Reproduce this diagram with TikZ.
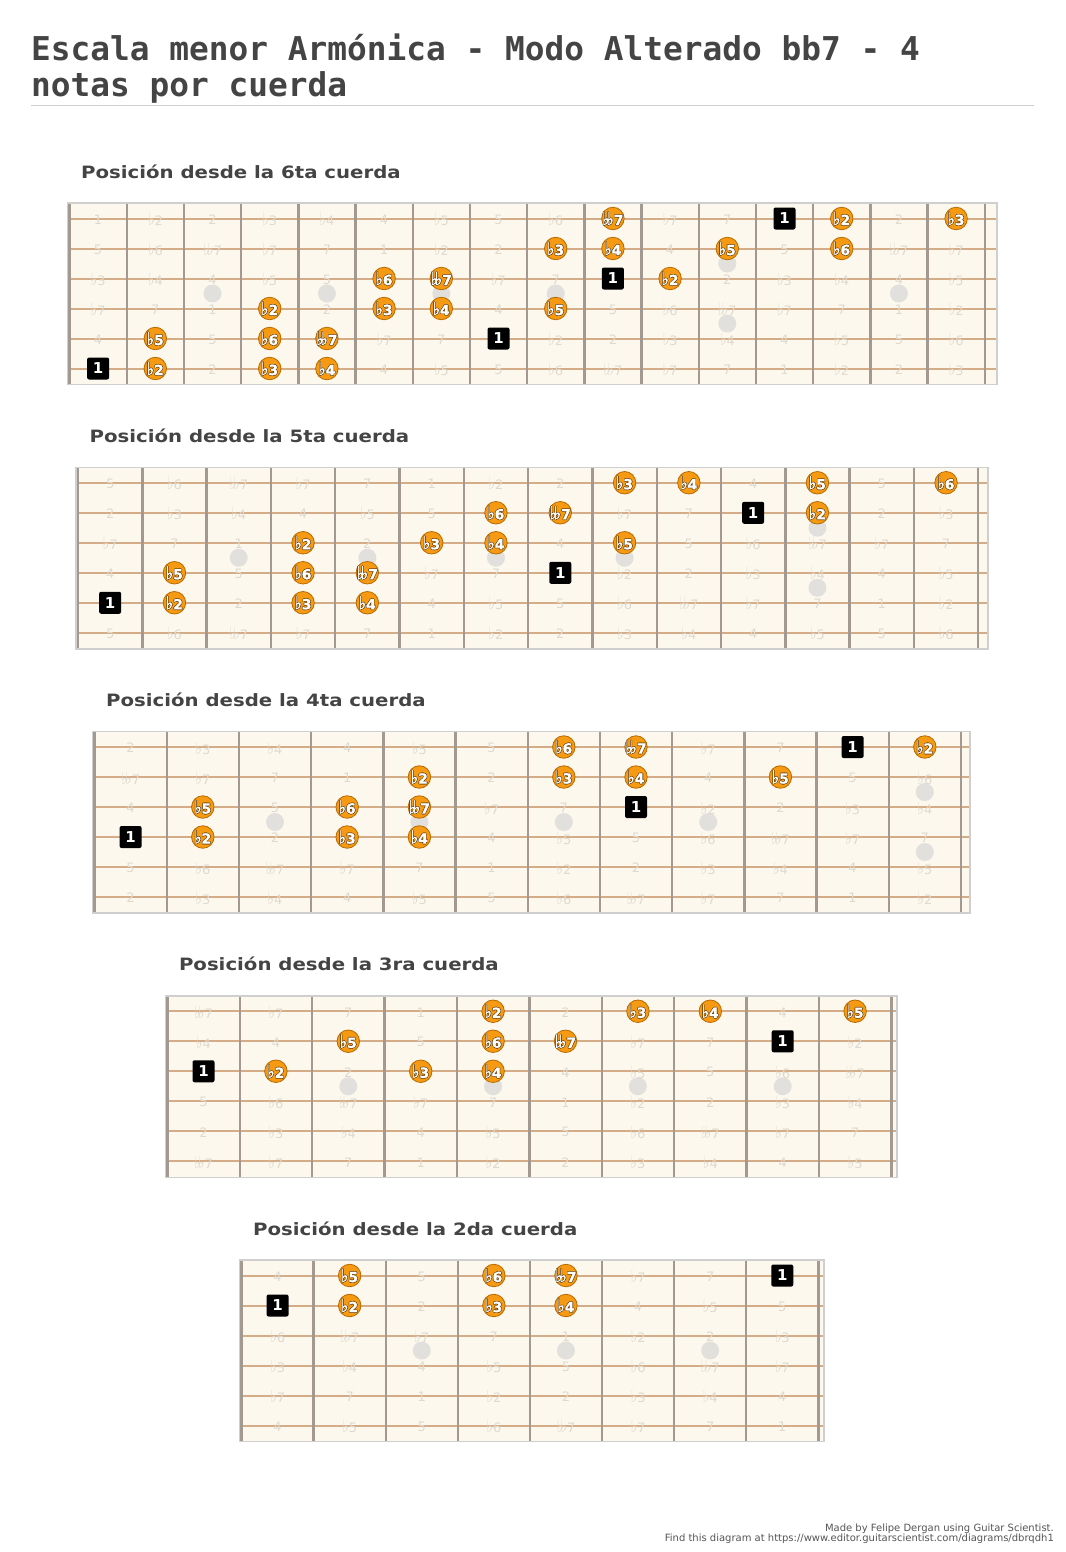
\documentclass[tikz,border=0pt]{standalone}
\usepackage{fontspec}
\usepackage{xcolor}
\usepackage{tikz}
\setmainfont{DejaVu Sans}
\newfontfamily\monohead{DejaVu Sans Mono}
\newfontfamily\widesans{DejaVu Sans}[FakeStretch=1.16]
\newfontface\degfont{DejaVu Sans Bold}[FakeBold=1.2]

\definecolor{headc}{HTML}{444444}
\definecolor{rulec}{HTML}{D0D0D0}
\definecolor{boardc}{HTML}{FDF8EE}
\definecolor{strc}{HTML}{D4AC88}
\definecolor{fretc}{HTML}{A29A90}
\definecolor{edgec}{HTML}{CFCFCF}
\definecolor{ghostc}{HTML}{DFDAD0}
\definecolor{inlayc}{HTML}{E2E0DC}
\definecolor{degfill}{HTML}{F59A12}
\definecolor{degline}{HTML}{B86A00}
\definecolor{degink}{HTML}{5A3A10}
\definecolor{footc}{HTML}{555555}

\newcommand\flt{\scalebox{1.1}[1.3]{♭}}
\newcommand\dflt{\flt\kern-.22em\flt}
% interval names by semitone
\expandafter\def\csname nm0\endcsname{1}
\expandafter\def\csname nm1\endcsname{\flt2}
\expandafter\def\csname nm2\endcsname{2}
\expandafter\def\csname nm3\endcsname{\flt3}
\expandafter\def\csname nm4\endcsname{\flt4}
\expandafter\def\csname nm5\endcsname{4}
\expandafter\def\csname nm6\endcsname{\flt5}
\expandafter\def\csname nm7\endcsname{5}
\expandafter\def\csname nm8\endcsname{\flt6}
\expandafter\def\csname nm9\endcsname{\dflt7}
\expandafter\def\csname nm10\endcsname{\flt7}
\expandafter\def\csname nm11\endcsname{7}
% marked notes, string/fret column
\expandafter\def\csname hl1\endcsname{6/0,6/1,6/3,6/4,5/1,5/3,5/4,5/7,4/3,4/5,4/6,4/8,3/5,3/6,3/9,3/10,2/8,2/9,2/11,2/13,1/9,1/12,1/13,1/15}
\expandafter\def\csname hl2\endcsname{5/0,5/1,5/3,5/4,4/1,4/3,4/4,4/7,3/3,3/5,3/6,3/8,2/6,2/7,2/10,2/11,1/8,1/9,1/11,1/13}
\expandafter\def\csname hl3\endcsname{4/0,4/1,4/3,4/4,3/1,3/3,3/4,3/7,2/4,2/6,2/7,2/9,1/6,1/7,1/10,1/11}
\expandafter\def\csname hl4\endcsname{3/0,3/1,3/3,3/4,2/2,2/4,2/5,2/8,1/4,1/6,1/7,1/9}
\expandafter\def\csname hl5\endcsname{2/0,2/1,2/3,2/4,1/1,1/3,1/4,1/7}

\newcommand\olt[1]{\makebox[0pt]{%
  \rlap{\kern.6pt\textcolor{degink}{#1}}%
  \rlap{\kern-.6pt\textcolor{degink}{#1}}%
  \rlap{\raisebox{.6pt}{\textcolor{degink}{#1}}}%
  \rlap{\raisebox{-.6pt}{\textcolor{degink}{#1}}}%
  \textcolor{white}{#1}}}

\begin{document}
\begin{tikzpicture}[x=1pt,y=-1pt,
% faint names on every fret:
ghost/.style = {text=ghostc, font=\fontsize{13}{13}\selectfont, inner sep=0},
% options for the scale degrees:
deg/.style = {circle, draw=degline, fill=degfill, line width=0.8pt,
            minimum size=22.5pt, inner sep=0, font=\fontsize{14}{14}\degfont},
tonic/.style = {rectangle, rounded corners=2pt, fill=black, minimum size=22pt,
            inner sep=0, text=white, font=\fontsize{15}{15}\selectfont\bfseries},
inlay/.style = {circle, fill=inlayc, minimum size=18pt, inner sep=0},
heading/.style = {anchor=base west, text=headc, inner sep=0,
            font=\fontsize{17}{17}\widesans\bfseries}]
\fill[white] (0,0) rectangle (1065,1552);
\useasboundingbox (0,0) rectangle (1065,1552);
\node[anchor=base west, text=headc, inner sep=0, font=\fontsize{32.8}{36}\monohead\bfseries] (head1) at (31,61) {Escala menor Armónica - Modo Alterado bb7 - 4};
\node[anchor=base west, text=headc, inner sep=0, font=\fontsize{32.8}{36}\monohead\bfseries] (head2) at (31,97) {notas por cuerda};
\draw[rulec, line width=1pt] (31,105.5) -- (1034,105.5);
\foreach \bd/\xa/\xb/\nf/\fw/\bs/\ord in {1/69.5/997/16/57.2/0/6ta, 2/78/988/14/64.3/7/5ta,
    3/94.5/970/12/72.2/2/4ta, 4/167.3/897/10/72.4/9/3ra, 5/241.5/824/8/72.1/5/2da}{
  \pgfmathsetmacro\ty{203+264.25*(\bd-1)}
  \pgfmathtruncatemacro\mf{\nf-1}
  \node[heading] (ttl\bd) at (\xa+11.5,\ty-25) {Posición desde la \ord\ cuerda};
  \fill[boardc] (\xa-2,\ty) rectangle (\xb,\ty+181.5);
  % inlays
  \foreach \c in {2,4,6,8,14}{
    \ifnum\c<\nf\relax \node[inlay] (dot\bd-\c) at (\xa+\fw*\c+\fw/2,\ty+90.5) {}; \fi}
  \ifnum11<\nf\relax
    \node[inlay] (dot\bd-11a) at (\xa+11.5*\fw,\ty+60.5) {};
    \node[inlay] (dot\bd-11b) at (\xa+11.5*\fw,\ty+120.5) {};
  \fi
  \foreach \s in {1,...,6}
    \draw[strc, line width=2pt] (\xa-2,\ty+15.5+30*\s-30) -- (\xb,\ty+15.5+30*\s-30);
  \foreach \j in {0,...,\nf}
    \draw[fretc, line width=2.4pt] (\xa+\fw*\j,\ty) -- (\xa+\fw*\j,\ty+181.5);
  \draw[edgec, line width=1.5pt] (\xa-2,\ty) rectangle (\xb,\ty+181.5);
  % all names, faint
  \foreach \s/\sh in {1/0,2/7,3/3,4/10,5/5,6/0}
    \foreach \c in {0,...,\mf}{
      \pgfmathtruncatemacro\iv{mod(\bs+\sh+\c,12)}
      \node[ghost] (g\bd-\s-\c) at (\xa+\fw*\c+\fw/2,\ty+16.5+30*\s-30) {\csname nm\iv\endcsname};
    }
  % the four notes per string
  \expandafter\let\expandafter\hl\csname hl\bd\endcsname
  \foreach \s/\c in \hl {
    \pgfmathtruncatemacro\sh{{0,7,3,10,5,0}[\s-1]}
    \pgfmathtruncatemacro\iv{mod(\bs+\sh+\c,12)}
    \ifnum\iv=0
      \node[tonic] (r\bd-\s-\c) at (\xa+\fw*\c+\fw/2,\ty+15.5+30*\s-30) {1};
    \else
      \node[deg] (d\bd-\s-\c) at (\xa+\fw*\c+\fw/2,\ty+15.5+30*\s-30) {\olt{\csname nm\iv\endcsname}};
    \fi
  }
}
\node[anchor=base east, text=footc, inner sep=0, font=\fontsize{10}{10}\selectfont] (made) at (1054,1531) {Made by Felipe Dergan using Guitar Scientist.};
\node[anchor=base east, text=footc, inner sep=0, font=\fontsize{10}{10}\selectfont] (find) at (1054,1541) {Find this diagram at https://www.editor.guitarscientist.com/diagrams/dbrqdh1};
\end{tikzpicture}
\end{document}
